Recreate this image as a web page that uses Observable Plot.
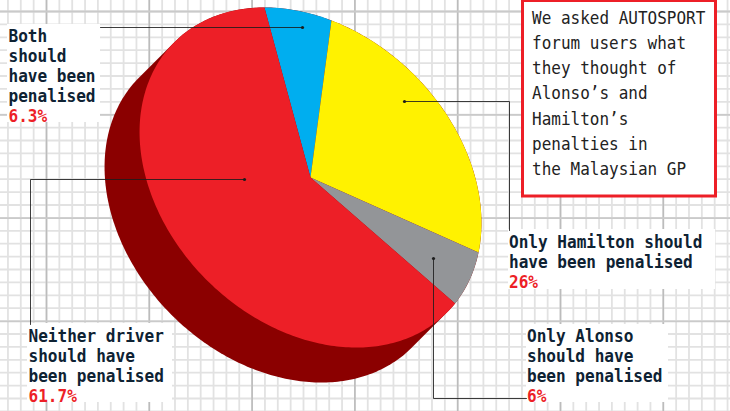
<!DOCTYPE html>
<html>
<head>
<meta charset="utf-8">
<title>AUTOSPORT forum poll</title>
<script src="https://cdn.jsdelivr.net/npm/d3@7"></script>
<script src="https://cdn.jsdelivr.net/npm/@observablehq/plot@0.6"></script>
<style>
  html, body { margin: 0; padding: 0; background: #fff; overflow: hidden; }
  svg { display: block; }
</style>
</head>
<body>
<div id="chart"></div>
<script>
// Poll answers, in clockwise order from the top of the disc.
const answers = ["Both", "Only Hamilton", "Only Alonso", "Neither"];
const shares = [6.3, 26, 6, 61.7];
const sliceColors = ["#00aeef", "#fff200", "#939598", "#ed1f27"];
const sideColor = "#8b0000";

const answerLines = [
  ["Both", "should", "have been", "penalised"],
  ["Only Hamilton should", "have been penalised"],
  ["Only Alonso", "should have", "been penalised"],
  ["Neither driver", "should have", "been penalised"]
];
const introLines = [
  "We asked AUTOSPORT",
  "forum users what",
  "they thought of",
  "Alonso’s and",
  "Hamilton’s",
  "penalties in",
  "the Malaysian GP"
];

// Tilted disc: a unit circle mapped through a linear transform.
const hub = [310, 177];
const tilt = [[168, -31.6], [75, 152.6]];
const depth = [-35, 35];
const startAngle = -116.28;
const project = (deg) => {
  const a = deg * Math.PI / 180, c = Math.cos(a), s = Math.sin(a);
  return [hub[0] + tilt[0][0] * c + tilt[0][1] * s, hub[1] + tilt[1][0] * c + tilt[1][1] * s];
};

// Slice outlines follow the poll shares.
const slicePoints = [];
let cumulative = 0;
answers.forEach((answer, i) => {
  const from = startAngle + cumulative * 3.6;
  const to = from + shares[i] * 3.6;
  cumulative += shares[i];
  slicePoints.push({answer, x: hub[0], y: hub[1]});
  const steps = Math.max(2, Math.ceil(to - from));
  for (let k = 0; k <= steps; k++) {
    const [x, y] = project(from + (to - from) * k / steps);
    slicePoints.push({answer, x, y});
  }
});

// Side wall: hull of the rim and the rim pushed down by the disc depth.
const rim = d3.range(0, 360, 1).map(project);
const wall = d3.polygonHull(rim.concat(rim.map(([x, y]) => [x + depth[0], y + depth[1]])))
  .map(([x, y]) => ({x, y}));

// Graph-paper backdrop.
const minorX = d3.range(-40, 60).map((k) => 46 + k * 12.85).filter((v) => v >= 0 && v <= 730);
const minorY = d3.range(-40, 60).map((k) => 11 + k * 12.9).filter((v) => v >= 0 && v <= 411);
const majorX = d3.range(0, 7).map((k) => 46 + k * 102.8);
const majorY = d3.range(0, 4).map((k) => 11 + k * 103.3);

// Annotation layout: label boxes, text origins and leader routes.
const boxes = [
  {x1: 7, x2: 100, y1: 24, y2: 122},
  {x1: 508, x2: 715, y1: 229, y2: 289},
  {x1: 526, x2: 668, y1: 324, y2: 402},
  {x1: 27, x2: 172, y1: 323, y2: 402}
];
const labelOrigins = [[8, 41], [508.5, 247], [526.5, 341], [28, 341]];
const labelStep = 20.1;
const leaderRoutes = [
  [[100, 27], [302, 27]],
  [[404, 101], [509, 101], [509, 230]],
  [[433, 258], [433, 398], [526, 398]],
  [[244, 179], [30, 179], [30, 324]]
];
const introBox = {x1: 522.5, x2: 715.5, y1: 0.5, y2: 196};

const leaders = leaderRoutes.flatMap((route, i) => route.map(([x, y]) => ({i, x, y})));
const leaderEnds = leaderRoutes.map((route) => ({x: route[0][0], y: route[0][1]}));
leaderEnds[0] = {x: leaderRoutes[0][1][0], y: leaderRoutes[0][1][1]};

const labelText = answerLines.flatMap((lines, i) => lines.map((text, k) => ({
  text, x: labelOrigins[i][0], y: labelOrigins[i][1] + k * labelStep
})));
const labelValues = shares.map((v, i) => ({
  text: `${v}%`,
  x: labelOrigins[i][0],
  y: labelOrigins[i][1] + answerLines[i].length * labelStep
}));
const introText = introLines.map((text, k) => ({text, x: 531.5, y: 23 + k * 25.3}));

// Squeeze the monospace glyphs horizontally to the narrow setting of the labels.
const condense = (ratio) => (index, scales, values, dims, context, next) => {
  const g = next(index, scales, values, dims, context);
  g.querySelectorAll("text").forEach((t) => {
    t.setAttribute("transform", `${t.getAttribute("transform") || ""} scale(${ratio},1)`);
  });
  return g;
};

const textOptions = {
  x: "x", y: "y", text: "text", textAnchor: "start", lineAnchor: "bottom",
  fontFamily: "'DejaVu Sans Mono', 'Liberation Mono', monospace"
};

const chart = Plot.plot({
  width: 730,
  height: 411,
  margin: 0,
  x: {domain: [0, 730], range: [0, 730], axis: null},
  y: {domain: [0, 411], range: [0, 411], axis: null},
  color: {domain: answers, range: sliceColors},
  style: {background: "#fff"},
  marks: [
    Plot.ruleX(minorX, {stroke: "#e2e2e2", strokeWidth: 1.8}),
    Plot.ruleY(minorY, {stroke: "#e2e2e2", strokeWidth: 1.8}),
    Plot.ruleX(majorX, {stroke: "#bcbcbc", strokeWidth: 1.6}),
    Plot.ruleY(majorY, {stroke: "#cacaca", strokeWidth: 1.8}),
    Plot.line(wall, {x: "x", y: "y", fill: sideColor, stroke: "none"}),
    Plot.line(slicePoints, {x: "x", y: "y", z: "answer", fill: "answer", stroke: "none"}),
    Plot.rect(boxes, {x1: "x1", x2: "x2", y1: "y1", y2: "y2", fill: "#fff"}),
    Plot.rect([introBox], {x1: "x1", x2: "x2", y1: "y1", y2: "y2", fill: "#fff", stroke: "#ed1f27", strokeWidth: 3}),
    Plot.line(leaders, {x: "x", y: "y", z: "i", stroke: "#1c1c1c", strokeWidth: 1, strokeOpacity: 0.85}),
    Plot.dot(leaderEnds, {x: "x", y: "y", r: 1.6, fill: "#1c1c1c"}),
    Plot.text(labelText, {...textOptions, fontSize: 18, fontWeight: 700, fill: "#0e2233", render: condense(0.893)}),
    Plot.text(labelValues, {...textOptions, fontSize: 18, fontWeight: 700, fill: "#ed1f27", render: condense(0.893)}),
    Plot.text(introText, {...textOptions, fontSize: 18.5, fill: "#222222", render: condense(0.865)})
  ]
});

document.getElementById("chart").appendChild(chart);
</script>
</body>
</html>
